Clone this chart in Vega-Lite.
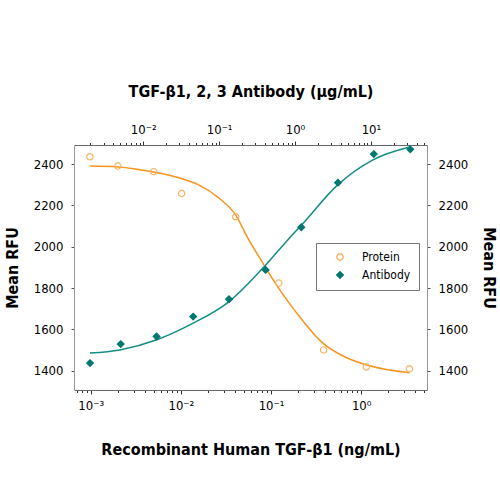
{
  "$schema": "https://vega.github.io/schema/vega-lite/v6.json",
  "width": 353,
  "height": 245,
  "autosize": {"type": "none"},
  "padding": {"left": 74, "top": 145, "right": 73, "bottom": 110},
  "background": "white",
  "config": {"view": {"stroke": null}, "font": "DejaVu Sans Condensed"},
  "datasets": {
    "protein": [
      {"conc": 0.00098, "rfu": 2435, "series": "Protein"},
      {"conc": 0.002, "rfu": 2390, "series": "Protein"},
      {"conc": 0.005, "rfu": 2363, "series": "Protein"},
      {"conc": 0.0102, "rfu": 2258, "series": "Protein"},
      {"conc": 0.0406, "rfu": 2145, "series": "Protein"},
      {"conc": 0.122, "rfu": 1824, "series": "Protein"},
      {"conc": 0.383, "rfu": 1501, "series": "Protein"},
      {"conc": 1.14, "rfu": 1418, "series": "Protein"},
      {"conc": 3.43, "rfu": 1410, "series": "Protein"}
    ],
    "antibody": [
      {"conc": 0.00199, "rfu": 1437, "series": "Antibody"},
      {"conc": 0.00505, "rfu": 1529, "series": "Antibody"},
      {"conc": 0.015, "rfu": 1566, "series": "Antibody"},
      {"conc": 0.0455, "rfu": 1662, "series": "Antibody"},
      {"conc": 0.135, "rfu": 1746, "series": "Antibody"},
      {"conc": 0.41, "rfu": 1888, "series": "Antibody"},
      {"conc": 1.21, "rfu": 2094, "series": "Antibody"},
      {"conc": 3.68, "rfu": 2310, "series": "Antibody"},
      {"conc": 10.9, "rfu": 2448, "series": "Antibody"},
      {"conc": 33, "rfu": 2471, "series": "Antibody"}
    ],
    "proteinFit": [
      {"conc": 0.00098, "rfu": 2390},
      {"conc": 0.002, "rfu": 2386},
      {"conc": 0.00502, "rfu": 2361},
      {"conc": 0.00976, "rfu": 2332},
      {"conc": 0.0158, "rfu": 2299},
      {"conc": 0.0263, "rfu": 2236},
      {"conc": 0.0405, "rfu": 2154},
      {"conc": 0.0552, "rfu": 2043},
      {"conc": 0.0809, "rfu": 1922},
      {"conc": 0.125, "rfu": 1791},
      {"conc": 0.192, "rfu": 1680},
      {"conc": 0.373, "rfu": 1535},
      {"conc": 0.689, "rfu": 1463},
      {"conc": 1.24, "rfu": 1424},
      {"conc": 3.44, "rfu": 1390}
    ],
    "antibodyFit": [
      {"conc": 0.00199, "rfu": 1486},
      {"conc": 0.00494, "rfu": 1501},
      {"conc": 0.0151, "rfu": 1550},
      {"conc": 0.0411, "rfu": 1622},
      {"conc": 0.134, "rfu": 1733},
      {"conc": 0.412, "rfu": 1912},
      {"conc": 0.802, "rfu": 2033},
      {"conc": 1.22, "rfu": 2105},
      {"conc": 3.65, "rfu": 2299},
      {"conc": 10.5, "rfu": 2419},
      {"conc": 32.3, "rfu": 2482}
    ]
  },
  "layer": [
    {
      "encoding": {
        "x": {
          "field": "conc", "type": "quantitative",
          "scale": {"type": "log", "domain": [0.000653, 5.37], "nice": false},
          "axis": {
            "orient": "bottom",
            "values": [0.0006, 0.0007, 0.0008, 0.0009, 0.001, 0.002, 0.003, 0.004, 0.005, 0.006, 0.007, 0.008, 0.009, 0.01, 0.02, 0.03, 0.04, 0.05, 0.06, 0.07, 0.08, 0.09, 0.1, 0.2, 0.3, 0.4, 0.5, 0.6, 0.7, 0.8, 0.9, 1, 2, 3, 4, 5],
            "labelExpr": "datum.value===0.001?'10\u207B\u00B3':datum.value===0.01?'10\u207B\u00B2':datum.value===0.1?'10\u207B\u00B9':datum.value===1?'10\u2070':''",
            "labelOverlap": false,
            "labelBound": false,
            "labelFlush": false,
            "labelFontSize": 13,
            "labelColor": "black",
            "labelPadding": 5,
            "tickSize": {"condition": {"test": "indexof([0.001,0.01,0.1,1], datum.value) >= 0", "value": 4}, "value": 2.5},
            "tickColor": "#333",
            "domainColor": "#666",
            "grid": false,
            "title": "Recombinant Human TGF-\u03B21 (ng/mL)",
            "titleFontWeight": "bold",
            "titleFontSize": 16,
            "titleColor": "black",
            "titlePadding": 29
          }
        },
        "y": {
          "field": "rfu", "type": "quantitative",
          "scale": {"domain": [1307, 2492], "nice": false, "zero": false},
          "axis": {
            "orient": "left",
            "values": [1400, 1600, 1800, 2000, 2200, 2400],
            "format": "d",
            "labelFontSize": 13,
            "labelColor": "black",
            "labelPadding": 8,
            "tickSize": 3,
            "tickColor": "#555",
            "domainColor": "#999",
            "grid": false,
            "title": "Mean RFU",
            "titleFontWeight": "bold",
            "titleFontSize": 16,
            "titleColor": "black",
            "titlePadding": 13
          }
        }
      },
      "layer": [
        {
          "data": {"name": "proteinFit"},
          "mark": {"type": "line", "color": "#F7941E", "strokeWidth": 1.5, "interpolate": "monotone"}
        },
        {
          "data": {"name": "protein"},
          "mark": {"type": "point", "size": 40, "strokeWidth": 1.2, "opacity": 1},
          "encoding": {
            "shape": {"field": "series", "type": "nominal", "scale": {"domain": ["Protein", "Antibody"], "range": ["circle", "diamond"]}, "legend": {"orient": "none", "legendX": 242, "legendY": 98, "title": null, "strokeColor": "#777", "padding": 8, "labelFontSize": 12, "labelColor": "black", "symbolOffset": 10, "labelOffset": 16, "rowPadding": 4, "symbolSize": 40}},
            "stroke": {"field": "series", "type": "nominal", "scale": {"domain": ["Protein", "Antibody"], "range": ["#F7B266", "#00776F"]}, "legend": {"orient": "none", "legendX": 242, "legendY": 98, "title": null, "strokeColor": "#777", "padding": 8, "labelFontSize": 12, "labelColor": "black", "symbolOffset": 10, "labelOffset": 16, "rowPadding": 4, "symbolSize": 40}},
            "fill": {"field": "series", "type": "nominal", "scale": {"domain": ["Protein", "Antibody"], "range": ["transparent", "#00776F"]}, "legend": {"orient": "none", "legendX": 242, "legendY": 98, "title": null, "strokeColor": "#777", "padding": 8, "labelFontSize": 12, "labelColor": "black", "symbolOffset": 10, "labelOffset": 16, "rowPadding": 4, "symbolSize": 40}}
          }
        }
      ]
    },
    {
      "encoding": {
        "x": {
          "field": "conc", "type": "quantitative",
          "scale": {"type": "log", "domain": [0.001225, 54.8], "nice": false},
          "axis": {
            "orient": "top",
            "values": [0.002, 0.003, 0.004, 0.005, 0.006, 0.007, 0.008, 0.009, 0.01, 0.02, 0.03, 0.04, 0.05, 0.06, 0.07, 0.08, 0.09, 0.1, 0.2, 0.3, 0.4, 0.5, 0.6, 0.7, 0.8, 0.9, 1, 2, 3, 4, 5, 6, 7, 8, 9, 10, 20, 30, 40, 50],
            "labelExpr": "datum.value===0.01?'10\u207B\u00B2':datum.value===0.1?'10\u207B\u00B9':datum.value===1?'10\u2070':datum.value===10?'10\u00B9':''",
            "labelOverlap": false,
            "labelBound": false,
            "labelFlush": false,
            "labelFontSize": 13,
            "labelColor": "black",
            "labelPadding": 5,
            "tickSize": {"condition": {"test": "indexof([0.01,0.1,1,10], datum.value) >= 0", "value": 4}, "value": 2.5},
            "tickColor": "#333",
            "domainColor": "#666",
            "grid": false,
            "title": "TGF-\u03B21, 2, 3 Antibody (\u03BCg/mL)",
            "titleFontWeight": "bold",
            "titleFontSize": 16,
            "titleColor": "black",
            "titlePadding": 24
          }
        },
        "y": {
          "field": "rfu", "type": "quantitative",
          "scale": {"domain": [1307, 2492], "nice": false, "zero": false},
          "axis": {
            "orient": "right",
            "values": [1400, 1600, 1800, 2000, 2200, 2400],
            "format": "d",
            "labelFontSize": 13,
            "labelColor": "black",
            "labelPadding": 8,
            "tickSize": 3,
            "tickColor": "#555",
            "domainColor": "#999",
            "grid": false,
            "title": "Mean RFU",
            "titleFontWeight": "bold",
            "titleFontSize": 16,
            "titleColor": "black",
            "titlePadding": 13
          }
        }
      },
      "layer": [
        {
          "data": {"name": "antibodyFit"},
          "mark": {"type": "line", "color": "#138D84", "strokeWidth": 1.5, "interpolate": "monotone"}
        },
        {
          "data": {"name": "antibody"},
          "mark": {"type": "point", "size": 45, "strokeWidth": 1.2, "opacity": 1},
          "encoding": {
            "shape": {"field": "series", "type": "nominal", "legend": {"orient": "none", "legendX": 242, "legendY": 98, "title": null, "strokeColor": "#777", "padding": 8, "labelFontSize": 12, "labelColor": "black", "symbolOffset": 10, "labelOffset": 16, "rowPadding": 4, "symbolSize": 40}},
            "stroke": {"field": "series", "type": "nominal", "legend": {"orient": "none", "legendX": 242, "legendY": 98, "title": null, "strokeColor": "#777", "padding": 8, "labelFontSize": 12, "labelColor": "black", "symbolOffset": 10, "labelOffset": 16, "rowPadding": 4, "symbolSize": 40}},
            "fill": {"field": "series", "type": "nominal", "legend": {"orient": "none", "legendX": 242, "legendY": 98, "title": null, "strokeColor": "#777", "padding": 8, "labelFontSize": 12, "labelColor": "black", "symbolOffset": 10, "labelOffset": 16, "rowPadding": 4, "symbolSize": 40}}
          }
        }
      ]
    }
  ],
  "resolve": {"scale": {"x": "independent", "y": "independent"}}
}
